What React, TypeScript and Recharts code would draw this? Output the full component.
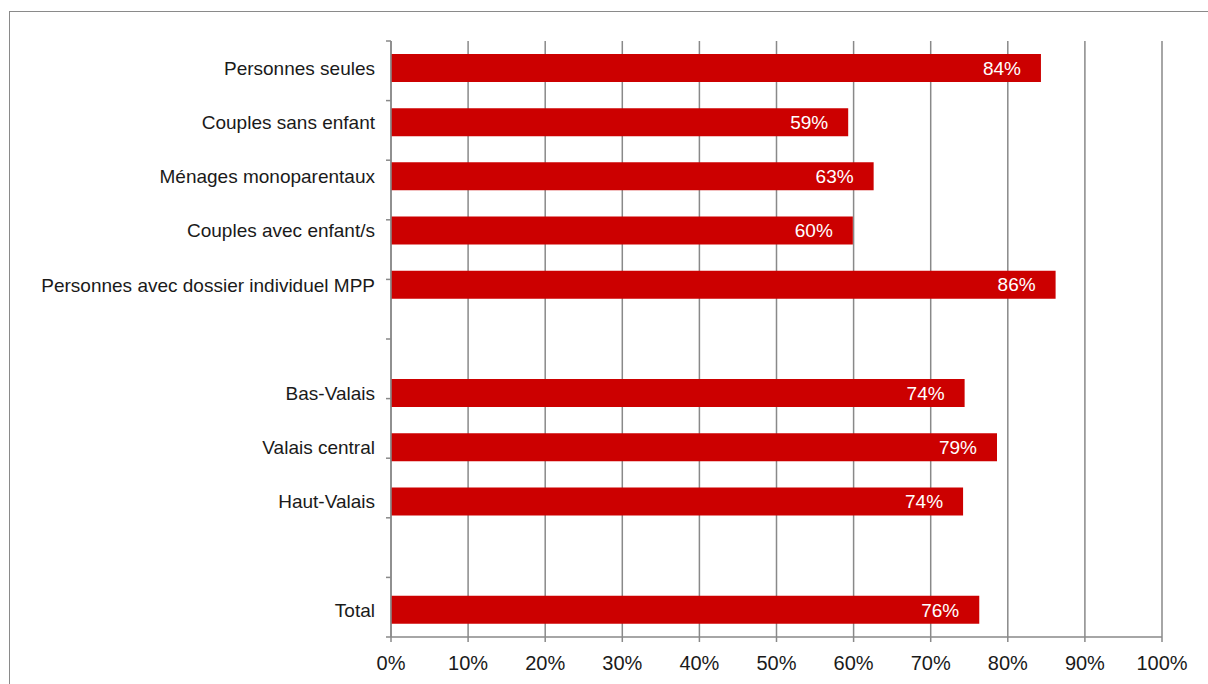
import {
  BarChart,
  Bar,
  XAxis,
  YAxis,
  CartesianGrid,
  LabelList,
} from 'recharts'

// empty labels are the gaps between the groups
const categories = [
  'Personnes seules',
  'Couples sans enfant',
  'Ménages monoparentaux',
  'Couples avec enfant/s',
  'Personnes avec dossier individuel MPP',
  ' ',
  'Bas-Valais',
  'Valais central',
  'Haut-Valais',
  '  ',
  'Total',
]
const shares: (number | null)[] = [84.3, 59.3, 62.6, 59.9, 86.2, null, 74.4, 78.6, 74.2, null, 76.3]
const xTicks = [0, 10, 20, 30, 40, 50, 60, 70, 80, 90, 100]
const slotTicks = [0, 1, 2, 3, 4, 5, 6, 7, 8, 9, 10, 11]

const data = categories.map((name, i) => ({ name, share: shares[i] }))

const gray = '#898989'
const font = 'Liberation Sans, Arial, sans-serif'

export default function App() {
  return (
    <div
      style={{
        position: 'absolute',
        left: 0,
        top: 0,
        width: 1208,
        height: 684,
        overflow: 'hidden',
        background: '#fff',
        fontFamily: font,
      }}
    >
      <div
        style={{
          position: 'absolute',
          left: 9,
          top: 11,
          width: 1220,
          height: 700,
          border: '1px solid #8a8a8a',
        }}
      />
      <div style={{ position: 'absolute', left: 0, top: 0 }}>
        <BarChart
          width={1208}
          height={684}
          data={data}
          layout="vertical"
          margin={{ top: 41, right: 46, bottom: 17, left: 0 }}
          barSize={28}
        >
          <CartesianGrid horizontal={false} stroke={gray} strokeWidth={1.5} yAxisId={1} />
          <XAxis
            type="number"
            domain={[0, 100]}
            ticks={xTicks}
            tickFormatter={(v) => `${v}%`}
            stroke={gray}
            strokeWidth={1.5}
            tickSize={5}
            tickMargin={14}
            tick={{ fill: '#1a1a1a', fontSize: 20, fontFamily: font }}
          />
          {/* slot boundaries: tick marks between the categories */}
          <YAxis
            yAxisId={0}
            type="number"
            domain={[0, 11]}
            ticks={slotTicks}
            width={6}
            tickSize={5}
            stroke={gray}
            strokeWidth={1.5}
            tickFormatter={() => ''}
          />
          <YAxis
            yAxisId={1}
            type="category"
            dataKey="name"
            width={385}
            axisLine={false}
            tickLine={false}
            tickSize={0}
            tickMargin={10}
            interval={0}
            tick={{ fill: '#1a1a1a', fontSize: 19, fontFamily: font }}
          />
          <Bar dataKey="share" yAxisId={1} fill="#cc0000" isAnimationActive={false}>
            <LabelList
              dataKey="share"
              position="insideRight"
              offset={20}
              fill="#fff"
              fontSize={19}
              fontFamily={font}
              formatter={(v: any) => (v == null ? '' : `${Math.round(v)}%`)}
            />
          </Bar>
        </BarChart>
      </div>
    </div>
  )
}
